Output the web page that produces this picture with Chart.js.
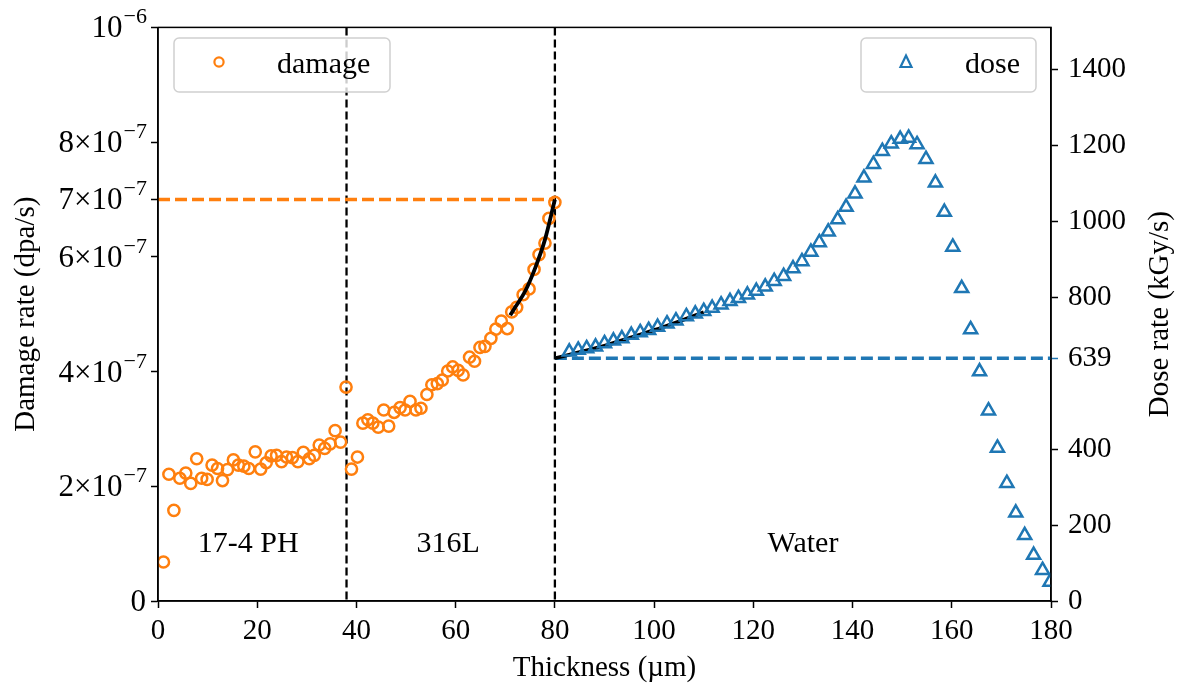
<!DOCTYPE html>
<html>
<head>
<meta charset="utf-8">
<script src="https://cdn.jsdelivr.net/npm/chart.js@4.4.1/dist/chart.umd.min.js"></script>
<style>
    html, body { margin: 0; padding: 0; background: #fff; }
</style>
</head>
<body>
<canvas id="chart" width="1180" height="694"></canvas>
<script>
// Damage rate in units of 1e-7 dpa/s, thickness in µm
const damageX = [1.1, 2.2, 3.2, 4.4, 5.6, 6.6, 7.8, 8.8, 9.9, 10.9, 12.0, 13.0, 14.0, 15.2, 16.2, 17.3, 18.3, 19.6, 20.7, 21.8,
    22.8, 23.9, 24.9, 25.9, 27.1, 28.2, 29.3, 30.5, 31.5, 32.5, 33.6, 34.7, 35.7, 36.8, 37.9, 39.0, 40.2, 41.3, 42.3, 43.3,
    44.4, 45.5, 46.5, 47.6, 48.8, 49.8, 50.8, 52.0, 53.0, 54.2, 55.2, 56.3, 57.3, 58.4, 59.4, 60.5, 61.5, 62.8, 63.8, 64.9,
    65.9, 67.1, 68.1, 69.2, 70.4, 71.3, 72.3, 73.6, 74.8, 75.8, 76.8, 78.0, 78.8, 80.0];
const damageRate = [0.68, 2.21, 1.58, 2.14, 2.23, 2.05, 2.48, 2.14, 2.12, 2.37, 2.31, 2.10, 2.29, 2.46, 2.37, 2.35, 2.31, 2.60, 2.30, 2.41,
    2.53, 2.54, 2.43, 2.51, 2.50, 2.43, 2.59, 2.48, 2.54, 2.72, 2.66, 2.74, 2.97, 2.77, 3.73, 2.30, 2.51, 3.10, 3.16, 3.10,
    3.03, 3.33, 3.05, 3.29, 3.37, 3.33, 3.48, 3.33, 3.36, 3.60, 3.77, 3.79, 3.85, 4.01, 4.08, 4.02, 3.94, 4.25, 4.18, 4.42,
    4.44, 4.58, 4.74, 4.88, 4.75, 5.04, 5.12, 5.34, 5.44, 5.78, 6.04, 6.24, 6.67, 6.95];

// Dose rate in kGy/s
const doseX = [82.9, 84.7, 86.4, 88.2, 90.0, 91.8, 93.5, 95.4, 97.2, 98.9, 100.7, 102.6, 104.4, 106.5, 108.3, 110.0, 111.7, 113.5, 115.3, 117.0,
    118.8, 120.6, 122.4, 124.2, 126.1, 128.0, 129.8, 131.6, 133.3, 135.1, 137.0, 138.7, 140.5, 142.3, 144.2, 146.0, 147.8, 149.6, 151.3, 153.0,
    154.8, 156.7, 158.5, 160.2, 162.0, 163.8, 165.6, 167.4, 169.2, 171.1, 172.9, 174.7, 176.5, 178.3, 179.8];
const doseRate = [656, 661, 665, 669, 678, 685, 691, 700, 707, 713, 721, 730, 738, 749, 756, 763, 771, 780, 789, 797,
    806, 816, 827, 842, 855, 875, 894, 919, 944, 972, 1004, 1037, 1072, 1114, 1150, 1184, 1204, 1216, 1219, 1202,
    1163, 1101, 1024, 932, 823, 715, 604, 501, 403, 310, 232, 173, 121, 81, 50];

// fitted curves (black)
const damageFitX = [71, 72, 74, 76, 78, 80];
const damageFitY = [4.98, 5.12, 5.40, 5.80, 6.30, 7.0];
const doseFitX = [80, 85, 90, 95, 100, 105, 110];
const doseFitY = [639, 655, 672, 692, 713, 736, 760];

const damageLimit = 7;    // 7e-7 dpa/s
const doseLimit = 639;    // kGy/s
const boundaries = [38, 80];
const regionLabels = ['17-4 PH', '316L', 'Water'];
const regionCenters = [18.2, 58.5, 130];

const xTicks = [0, 20, 40, 60, 80, 100, 120, 140, 160, 180];
const damageTicks = [0, 2, 4, 6, 7, 8, 10];
const doseTicks = [0, 200, 400, 639, 800, 1000, 1200, 1400];

const ORANGE = '#ff7f0e';
const BLUE = '#1f77b4';
const FONT = "'Liberation Serif', 'Times New Roman', serif";

const pts = (xs, ys) => xs.map((x, i) => ({ x: x, y: ys[i] }));

// frame, boundaries, left tick labels, titles, legends, region labels
const decorations = {
    id: 'decorations',
    beforeDatasetsDraw(chart) {
        const { ctx, chartArea: a, scales } = chart;
        ctx.save();
        ctx.strokeStyle = '#000';
        ctx.lineWidth = 2.3;
        ctx.setLineDash([8, 4]);
        boundaries.forEach(b => {
            const px = scales.x.getPixelForValue(b);
            ctx.beginPath();
            ctx.moveTo(px, a.top);
            ctx.lineTo(px, a.bottom);
            ctx.stroke();
        });
        ctx.restore();
    },
    afterDraw(chart) {
        const { ctx, chartArea: a, scales } = chart;
        ctx.save();

        // frame
        ctx.strokeStyle = '#000';
        ctx.lineWidth = 1.5;
        ctx.strokeRect(a.left, a.top, a.right - a.left, a.bottom - a.top);

        ctx.fillStyle = '#000';

        // left tick labels with exponents
        const right = a.left - 12;
        damageTicks.forEach(v => {
            const py = scales.y.getPixelForValue(v);
            let base, exp;
            if (v === 0) { base = '0'; exp = ''; }
            else if (v === 10) { base = '10'; exp = '\u22126'; }
            else { base = v + '\u00d710'; exp = '\u22127'; }
            ctx.textBaseline = 'alphabetic';
            ctx.textAlign = 'left';
            ctx.font = '22px ' + FONT;
            const ew = exp ? ctx.measureText(exp).width : 0;
            ctx.font = '31px ' + FONT;
            const bw = ctx.measureText(base).width;
            const x0 = right - ew - bw;
            ctx.fillText(base, x0, py + 10);
            if (exp) {
                ctx.font = '22px ' + FONT;
                ctx.fillText(exp, x0 + bw + 1, py - 4);
            }
        });

        // axis titles
        ctx.font = '29px ' + FONT;
        ctx.textAlign = 'center';
        ctx.textBaseline = 'middle';
        ctx.fillText('Thickness (\u00b5m)', (a.left + a.right) / 2, 668);
        ctx.save();
        ctx.translate(26, (a.top + a.bottom) / 2);
        ctx.rotate(-Math.PI / 2);
        ctx.fillText('Damage rate (dpa/s)', 0, 0);
        ctx.restore();
        ctx.save();
        ctx.translate(1160, (a.top + a.bottom) / 2);
        ctx.rotate(-Math.PI / 2);
        ctx.fillText('Dose rate (kGy/s)', 0, 0);
        ctx.restore();

        // region labels
        ctx.font = '30px ' + FONT;
        regionLabels.forEach((t, i) => {
            ctx.fillText(t, scales.x.getPixelForValue(regionCenters[i]), 544);
        });

        // legends
        const box = (x, y, w, h) => {
            ctx.beginPath();
            ctx.roundRect(x, y, w, h, 5);
            ctx.fillStyle = 'rgba(255,255,255,0.8)';
            ctx.fill();
            ctx.strokeStyle = '#d0d0d0';
            ctx.lineWidth = 1.5;
            ctx.setLineDash([]);
            ctx.stroke();
        };
        box(174, 38, 216, 54);
        ctx.beginPath();
        ctx.arc(219, 62, 4.6, 0, Math.PI * 2);
        ctx.strokeStyle = ORANGE;
        ctx.lineWidth = 2.2;
        ctx.stroke();
        ctx.fillStyle = '#000';
        ctx.font = '30px ' + FONT;
        ctx.textAlign = 'left';
        ctx.textBaseline = 'alphabetic';
        ctx.fillText('damage', 277, 73);

        box(861, 38, 175, 54);
        ctx.beginPath();
        ctx.moveTo(906, 55.5);
        ctx.lineTo(911.5, 67);
        ctx.lineTo(900.5, 67);
        ctx.closePath();
        ctx.strokeStyle = BLUE;
        ctx.lineWidth = 2.2;
        ctx.stroke();
        ctx.fillStyle = '#000';
        ctx.fillText('dose', 965, 73);

        ctx.restore();
    }
};

const ctx = document.getElementById('chart').getContext('2d');
const chart = new Chart(ctx, {
    type: 'scatter',
    data: {
        datasets: [
            {
                label: 'damage fit',
                data: pts(damageFitX, damageFitY),
                yAxisID: 'y',
                showLine: true,
                borderColor: '#000',
                borderWidth: 3.8,
                pointRadius: 0,
                cubicInterpolationMode: 'monotone',
                order: 0
            },
            {
                label: 'damage',
                data: pts(damageX, damageRate),
                yAxisID: 'y',
                pointStyle: 'circle',
                pointRadius: 5.6,
                pointBorderWidth: 2.5,
                borderColor: ORANGE,
                backgroundColor: 'rgba(0,0,0,0)',
                order: 1
            },
            {
                label: 'dose',
                data: pts(doseX, doseRate),
                yAxisID: 'y1',
                pointStyle: 'triangle',
                pointRadius: 7.5,
                pointBorderWidth: 2.5,
                borderColor: BLUE,
                backgroundColor: 'rgba(0,0,0,0)',
                order: 2
            },
            {
                label: 'dose fit',
                data: pts(doseFitX, doseFitY),
                yAxisID: 'y1',
                showLine: true,
                borderColor: '#000',
                borderWidth: 3.8,
                pointRadius: 0,
                cubicInterpolationMode: 'monotone',
                order: 3
            },
            {
                label: 'damage limit',
                data: pts([0, 80], [damageLimit, damageLimit]),
                yAxisID: 'y',
                showLine: true,
                borderColor: ORANGE,
                borderWidth: 3.4,
                borderDash: [12, 5],
                pointRadius: 0,
                order: 4
            },
            {
                label: 'dose limit',
                data: pts([80, 180], [doseLimit, doseLimit]),
                yAxisID: 'y1',
                showLine: true,
                borderColor: BLUE,
                borderWidth: 3.4,
                borderDash: [12, 5],
                pointRadius: 0,
                order: 5
            }
        ]
    },
    options: {
        responsive: false,
        animation: false,
        devicePixelRatio: 1,
        layout: { padding: { top: 20, left: 0, right: 0, bottom: 0 } },
        plugins: {
            legend: { display: false },
            tooltip: { enabled: false }
        },
        scales: {
            x: {
                type: 'linear',
                min: 0,
                max: 180,
                afterBuildTicks: s => { s.ticks = xTicks.map(v => ({ value: v })); },
                afterFit: s => { s.height = 93; },
                grid: { drawOnChartArea: false, tickLength: 7, tickWidth: 1.5, color: '#000' },
                border: { color: '#000', width: 1.5 },
                ticks: { color: '#000', padding: 6, maxRotation: 0, font: { family: FONT, size: 29 }, callback: v => String(v) }
            },
            y: {
                position: 'left',
                min: 0,
                max: 10,
                afterBuildTicks: s => { s.ticks = damageTicks.map(v => ({ value: v })); },
                afterFit: s => { s.width = 158; },
                grid: { drawOnChartArea: false, tickLength: 7, tickWidth: 1.5, color: '#000' },
                border: { color: '#000', width: 1.5 },
                ticks: { display: false }
            },
            y1: {
                position: 'right',
                min: 0,
                max: 1510,
                afterBuildTicks: s => { s.ticks = doseTicks.map(v => ({ value: v })); },
                afterFit: s => { s.width = 129; },
                grid: {
                    drawOnChartArea: false, tickLength: 7, tickWidth: 1.5,
                    color: c => (c.tick && c.tick.value === doseLimit) ? BLUE : '#000'
                },
                border: { color: '#000', width: 1.5 },
                ticks: { color: '#000', padding: 10, font: { family: FONT, size: 29 }, callback: v => String(v) }
            }
        }
    },
    plugins: [decorations]
});
</script>
</body>
</html>
